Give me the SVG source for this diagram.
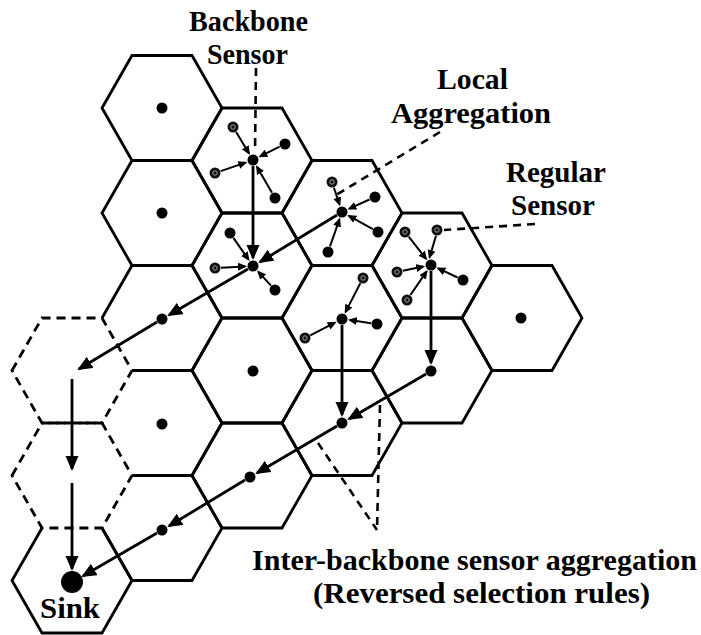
<svg xmlns="http://www.w3.org/2000/svg" xmlns:xlink="http://www.w3.org/1999/xlink" width="701" height="635" viewBox="0 0 701 635">
<style>
.hex{fill:none;stroke:#000;stroke-width:2.8;stroke-linejoin:miter}
.dash{stroke-dasharray:9 6}
.dot{fill:#000}
.thick{fill:none;stroke:#000;stroke-width:2.8;marker-end:url(#big)}
.thin{fill:none;stroke:#000;stroke-width:2;marker-end:url(#small)}
.lead{fill:none;stroke:#000;stroke-width:2.6;stroke-dasharray:8 6}
.lbl{font-weight:bold;font-size:30px;text-anchor:middle;fill:#000}
</style>
<defs>
<marker id="big" markerUnits="userSpaceOnUse" markerWidth="16" markerHeight="14" refX="13" refY="6.5" orient="auto"><path d="M0,0 L15,6.5 L0,13 z" fill="#000"/></marker>
<marker id="small" markerUnits="userSpaceOnUse" markerWidth="10" markerHeight="9" refX="7" refY="4" orient="auto"><path d="M0,0 L9,4 L0,8 z" fill="#000"/></marker>
<g id="regS"><circle r="5.5" fill="#000"/></g>
<g id="regP"><circle r="5.5" fill="#111"/><circle r="2.2" fill="none" stroke="#aaa" stroke-width="0.9"/></g>
</defs>
<rect width="701" height="635" fill="#fff"/>

<g id="cells">
<g id="cell-c0r3"><polygon class="hex dash" points="12,370.5 42,318 102,318 132,370.5 102,423 42,423"/></g>
<g id="cell-c0r4"><polygon class="hex dash" points="12,475.5 42,423 102,423 132,475.5 102,528 42,528"/></g>
<g id="cell-sink"><path class="hex" d="M42,528 L12,580.5 L42,633 L102,633 L132,580.5 L102,528"/><circle class="dot" cx="72" cy="582" r="11"/></g>
<g id="cell-c1r0"><polygon class="hex" points="102,108 132,55.5 192,55.5 222,108 192,160.5 132,160.5"/><circle class="dot" cx="162" cy="108" r="5.5"/></g>
<g id="cell-c1r1"><polygon class="hex" points="102,213 132,160.5 192,160.5 222,213 192,265.5 132,265.5"/><circle class="dot" cx="162" cy="213" r="5.5"/></g>
<g id="cell-c1r2"><path class="hex" d="M102,318 L132,265.5 L192,265.5 L222,318 L192,370.5 L132,370.5"/><circle class="dot" cx="162" cy="319" r="5.5"/></g>
<g id="cell-c1r3"><path class="hex" d="M132,370.5 L192,370.5 L222,423 L192,475.5 L132,475.5"/><circle class="dot" cx="162" cy="424" r="5.5"/></g>
<g id="cell-c1r4"><path class="hex" d="M132,475.5 L192,475.5 L222,528 L192,580.5 L132,580.5 L102,528"/><circle class="dot" cx="162" cy="530" r="5.5"/></g>
<g id="cell-c2r0"><polygon class="hex" points="192,160.5 222,108 282,108 312,160.5 282,213 222,213"/><circle class="dot" cx="253" cy="160" r="5.5"/>
<use xlink:href="#regP" x="233" y="127"/><use xlink:href="#regS" x="285" y="144"/><use xlink:href="#regP" x="215" y="173"/><use xlink:href="#regS" x="275" y="198"/></g>
<g id="cell-c2r1"><polygon class="hex" points="192,265.5 222,213 282,213 312,265.5 282,318 222,318"/><circle class="dot" cx="253" cy="266" r="5.5"/>
<use xlink:href="#regS" x="230" y="233"/><use xlink:href="#regP" x="215" y="268"/><use xlink:href="#regS" x="275" y="290"/></g>
<g id="cell-c2r2"><polygon class="hex" points="192,370.5 222,318 282,318 312,370.5 282,423 222,423"/><circle class="dot" cx="253" cy="371" r="5.5"/></g>
<g id="cell-c2r3"><polygon class="hex" points="192,475.5 222,423 282,423 312,475.5 282,528 222,528"/><circle class="dot" cx="250" cy="477" r="5.5"/></g>
<g id="cell-c3r0"><polygon class="hex" points="282,213 312,160.5 372,160.5 402,213 372,265.5 312,265.5"/><circle class="dot" cx="342" cy="212" r="5.5"/>
<use xlink:href="#regP" x="332" y="182"/><use xlink:href="#regS" x="375" y="197"/><use xlink:href="#regS" x="378" y="232"/><use xlink:href="#regS" x="328" y="252"/></g>
<g id="cell-c3r1"><polygon class="hex" points="282,318 312,265.5 372,265.5 402,318 372,370.5 312,370.5"/><circle class="dot" cx="342" cy="319" r="5.5"/>
<use xlink:href="#regP" x="363" y="278"/><use xlink:href="#regP" x="305" y="338"/><use xlink:href="#regS" x="377" y="324"/></g>
<g id="cell-c3r2"><polygon class="hex" points="282,423 312,370.5 372,370.5 402,423 372,475.5 312,475.5"/><circle class="dot" cx="342" cy="423" r="5.5"/></g>
<g id="cell-c4r0"><polygon class="hex" points="372,265.5 402,213 462,213 492,265.5 462,318 402,318"/><circle class="dot" cx="431" cy="265" r="5.5"/>
<use xlink:href="#regP" x="405" y="232"/><use xlink:href="#regP" x="437" y="230"/><use xlink:href="#regP" x="397" y="272"/><use xlink:href="#regP" x="407" y="300"/><use xlink:href="#regS" x="463" y="280"/></g>
<g id="cell-c4r1"><polygon class="hex" points="372,370.5 402,318 462,318 492,370.5 462,423 402,423"/><circle class="dot" cx="431" cy="371" r="5.5"/></g>
<g id="cell-c5r0"><polygon class="hex" points="462,318 492,265.5 552,265.5 582,318 552,370.5 492,370.5"/><circle class="dot" cx="521" cy="318" r="5.5"/></g>
</g>

<g id="connectors">
<path class="thick" d="M253,166 L253,258"/>
<path class="thick" d="M337,215 L260,262"/>
<path class="thick" d="M248,269 L169,315"/>
<path class="thick" d="M157,322 L79,369"/>
<path class="thick" d="M72,379 L72,469"/>
<path class="thick" d="M72,483 L72,569"/>
<path class="thick" d="M431,271 L431,363"/>
<path class="thick" d="M426,374 L349,419"/>
<path class="thick" d="M342,325 L342,415"/>
<path class="thick" d="M337,426 L257,473"/>
<path class="thick" d="M245,480 L169,526"/>
<path class="thick" d="M157,533 L83,576"/>

<path class="thin" d="M236.1,132.1 L248.9,153.2"/>
<path class="thin" d="M279.6,146.7 L260.2,156.4"/>
<path class="thin" d="M220.7,171.1 L245.4,162.6"/>
<path class="thin" d="M272,192.8 L257,166.9"/>
<path class="thin" d="M233.4,237.9 L248.4,259.4"/>
<path class="thin" d="M221,267.7 L245,266.4"/>
<path class="thin" d="M271,285.6 L258.4,271.9"/>
<path class="thin" d="M333.9,187.7 L339.5,204.4"/>
<path class="thin" d="M369.5,199.5 L349.3,208.7"/>
<path class="thin" d="M372.8,229.1 L349,215.9"/>
<path class="thin" d="M330,246.3 L339.4,219.5"/>
<path class="thin" d="M360.3,283.3 L345.6,311.9"/>
<path class="thin" d="M310.3,335.3 L334.9,322.7"/>
<path class="thin" d="M371.1,323.2 L349.9,320.1"/>
<path class="thin" d="M408.7,236.7 L426,258.7"/>
<path class="thin" d="M436,235.9 L429.6,257.1"/>
<path class="thin" d="M402.9,270.8 L423.2,266.6"/>
<path class="thin" d="M410.4,295 L426.5,271.6"/>
<path class="thin" d="M457.6,277.5 L438.2,268.4"/>

<path class="lead" d="M256,68 L255,152"/>
<path class="lead" d="M440,132 L336,195"/>
<path class="lead" d="M535,224 L444,230"/>
<path class="lead" d="M318,443 L377,530"/>
<path class="lead" d="M380,405 L377,530"/>
</g>

<g id="labels" font-family="'Liberation Serif', 'Times New Roman', 'DejaVu Serif', serif">
<text class="lbl" x="248.5" y="31" textLength="119" lengthAdjust="spacingAndGlyphs">Backbone</text>
<text class="lbl" x="247.5" y="64" textLength="81" lengthAdjust="spacingAndGlyphs">Sensor</text>
<text class="lbl" x="472.5" y="89" textLength="71" lengthAdjust="spacingAndGlyphs">Local</text>
<text class="lbl" x="471" y="123" textLength="160" lengthAdjust="spacingAndGlyphs">Aggregation</text>
<text class="lbl" x="556" y="182" textLength="100" lengthAdjust="spacingAndGlyphs">Regular</text>
<text class="lbl" x="553" y="215" textLength="84" lengthAdjust="spacingAndGlyphs">Sensor</text>
<text class="lbl" x="474.5" y="570" textLength="445" lengthAdjust="spacingAndGlyphs">Inter-backbone sensor aggregation</text>
<text class="lbl" x="481.5" y="603" textLength="337" lengthAdjust="spacingAndGlyphs">(Reversed selection rules)</text>
<text class="lbl" x="70" y="618" textLength="60" lengthAdjust="spacingAndGlyphs">Sink</text>
</g>
</svg>
